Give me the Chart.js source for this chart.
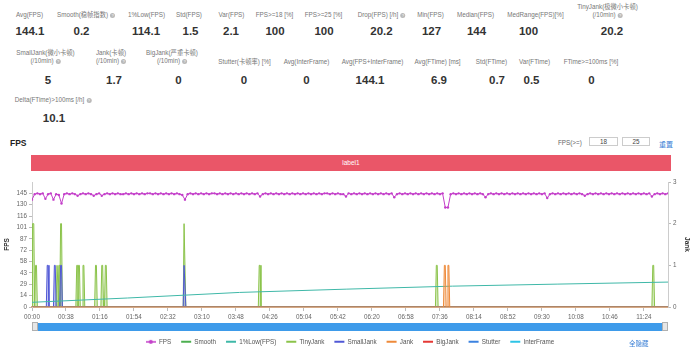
<!DOCTYPE html>
<html>
<head>
<meta charset="utf-8">
<script src="https://cdn.jsdelivr.net/npm/chart.js@4.4.0/dist/chart.umd.min.js"></script>
<style>
html, body { margin: 0; padding: 0; background: #fff; overflow: hidden; }
body { width: 700px; height: 347px; position: relative; font-family: "Liberation Sans", Arial, "Noto Sans CJK SC", sans-serif; }
.lb { position: absolute; transform: translateX(-50%); text-align: center; white-space: nowrap; font-size: 6.3px; line-height: 8px; color: #777; }
.val { position: absolute; transform: translateX(-50%); white-space: nowrap; font-size: 11.5px; line-height: 13px; font-weight: bold; color: #333; }
.q { display: inline-block; width: 5px; height: 5px; border-radius: 50%; background: #b8b8b8; color: #fff; font-size: 4px; line-height: 5px; text-align: center; vertical-align: middle; margin-left: 2px; }
#title { position: absolute; left: 10px; top: 138px; font-size: 8.5px; font-weight: bold; color: #222; }
#fpsGe { position: absolute; left: 558px; top: 139px; font-size: 6.3px; color: #666; }
.inp { position: absolute; top: 137px; height: 9px; border: 1px solid #ccc; box-sizing: border-box; font-size: 6.3px; line-height: 7px; text-align: center; color: #444; }
#reset { position: absolute; left: 659px; top: 138.5px; font-size: 7px; color: #3a7fd5; }
#labelBar { position: absolute; left: 31px; top: 155px; width: 640px; height: 16px; background: #ea5668; color: #fff; font-size: 6.5px; line-height: 16px; text-align: center; }
#wrap { position: absolute; left: 0; top: 172px; width: 700px; height: 183px; }
#slider { position: absolute; left: 34px; top: 323px; width: 632px; height: 8px; background: #3e9bea; border-radius: 1px; }
.handle { position: absolute; top: 322px; width: 6px; height: 9px; background: #e6e6e6; border: 1px solid #b0b0b0; box-sizing: border-box; }
#hideAll { position: absolute; left: 629px; top: 337.5px; font-size: 6.5px; color: #3a7fd5; }
</style>
</head>
<body>
<div id="stats"></div>
<div id="title">FPS</div>
<div id="fpsGe">FPS(&gt;=)</div>
<div class="inp" style="left:589px;width:29px;">18</div>
<div class="inp" style="left:622px;width:28px;">25</div>
<div id="reset">重置</div>
<div id="labelBar">label1</div>
<div id="wrap"><canvas id="fpsChart" width="700" height="183"></canvas></div>
<div id="slider"></div>
<div class="handle" style="left:32px;"></div>
<div class="handle" style="left:662px;"></div>
<div id="hideAll">全隐藏</div>
<script>
// summary numbers: label, value, label centre x, value centre x, row
const statRows = [
    ['Avg(FPS)', '144.1', 29.5, 30, 0],
    ['Smooth(稳帧指数)?', '0.2', 86, 81.5, 0],
    ['1%Low(FPS)', '114.1', 146.5, 146, 0],
    ['Std(FPS)', '1.5', 189, 190.5, 0],
    ['Var(FPS)', '2.1', 231.5, 231, 0],
    ['FPS>=18 [%]', '100', 274.5, 275, 0],
    ['FPS>=25 [%]', '100', 323.5, 324, 0],
    ['Drop(FPS) [/h]?', '20.2', 381.5, 381.5, 0],
    ['Min(FPS)', '127', 430.5, 431.5, 0],
    ['Median(FPS)', '144', 475.5, 476.5, 0],
    ['MedRange(FPS)[%]', '100', 535.5, 528.5, 0],
    ['TinyJank(极微小卡顿)|(/10min)?', '20.2', 607.5, 612, 0],
    ['SmallJank(微小卡顿)|(/10min)?', '5', 45.5, 48, 1],
    ['Jank(卡顿)|(/10min)?', '1.7', 111, 114, 1],
    ['BigJank(严重卡顿)|(/10min)?', '0', 172, 178.5, 1],
    ['Stutter(卡顿率) [%]', '0', 244.5, 244, 1],
    ['Avg(InterFrame)', '0', 306.5, 306.5, 1],
    ['Avg(FPS+InterFrame)', '144.1', 372.5, 370, 1],
    ['Avg(FTime) [ms]', '6.9', 437.5, 439, 1],
    ['Std(FTime)', '0.7', 491.5, 497, 1],
    ['Var(FTime)', '0.5', 534.5, 531.5, 1],
    ['FTime>=100ms [%]', '0', 591, 591.5, 1],
    ['Delta(FTime)>100ms [/h]?', '10.1', 53, 54, 2]
];

// chart data (time in seconds)
const timeMax = 711;
const xTickLabels = ['00:00', '00:38', '01:16', '01:54', '02:32', '03:10', '03:48', '04:26', '05:04', '05:42',
    '06:20', '06:58', '07:36', '08:14', '08:52', '09:30', '10:08', '10:46', '11:24'];
const fpsTickValues = [0, 14.5, 29, 43.5, 58, 72.5, 87, 101.5, 116, 130.5, 145];
const fpsTickLabels = ['0', '14', '29', '43', '58', '72', '87', '101', '116', '130', '145'];

const fpsStep = 3;
const fpsValues = [
    137,144,145,144,145,138,144,145,137,144,
    143,132,144,145,144,145,144,142,144,145,
    144,145,144,142,144,145,142,144,145,144,
    145,144,145,144,144,145,144,145,144,145,
    144,145,144,145,145,144,145,144,145,144,
    145,144,145,144,145,144,143,137,144,145,
    144,145,144,145,144,145,144,145,145,144,
    145,144,145,144,145,144,145,144,145,144,
    145,144,145,144,145,141,144,145,144,145,
    144,145,144,145,144,145,144,145,144,145,
    144,145,144,145,144,145,144,145,144,145,
    145,144,145,144,145,144,144,141,145,144,
    145,144,145,144,145,144,145,144,145,144,
    145,144,145,144,145,140,144,145,144,145,
    144,145,144,145,144,145,144,145,144,145,
    144,145,144,145,127,127,144,145,144,145,
    144,145,144,145,144,145,144,145,144,140,
    144,145,144,145,144,145,144,145,144,145,
    144,145,144,145,144,145,144,145,144,145,
    144,145,139,144,145,144,145,144,145,144,
    145,144,145,144,145,144,142,144,145,144,
    145,144,145,144,145,144,145,144,145,144,
    145,144,145,144,145,144,145,144,145,144,
    145,141,144,145,144,145,144,145
];

const lowTimes = [0, 107, 232, 352, 470, 587, 711];
const lowValues = [6, 11.5, 18.6, 22.8, 26.6, 29.2, 31.8];

const tinyJankTimes = [1, 4, 28, 30, 32, 50, 52, 57, 71, 78, 82, 170, 254, 452, 694];
const tinyJankValues = [2, 1, 1, 1, 2, 1, 1, 1, 1, 1, 1, 2, 1, 1, 1];
const smallJankTimes = [17, 25, 32, 170];
const smallJankValues = [1, 1, 1, 1];
const jankTimes = [461, 465];
const jankValues = [1, 1];
const bigJankTimes = [];
const bigJankValues = [];
const flatTimes = [0, 711];
const smoothValues = [0, 0];
const stutterValues = [0, 0];
const interFrameValues = [0, 0];

// --- summary block ---
const statsBox = document.getElementById('stats');
const labelTop = [11, 58, 96];
const valueTop = [25, 73.5, 111.5];
statRows.forEach(function(s) {
    const lines = s[0].split('|');
    const lb = document.createElement('div');
    lb.className = 'lb';
    lb.innerHTML = lines.map(l => l.replace('?', '<span class="q">?</span>')).join('<br>');
    lb.style.left = s[2] + 'px';
    lb.style.top = (labelTop[s[4]] - (lines.length - 1) * (s[4] === 1 ? 9 : 8.3)) + 'px';
    statsBox.appendChild(lb);
    const v = document.createElement('div');
    v.className = 'val';
    v.textContent = s[1];
    v.style.left = s[3] + 'px';
    v.style.top = valueTop[s[4]] + 'px';
    statsBox.appendChild(v);
});

// --- chart ---
function toSec(label) {
    const p = label.split(':');
    return Number(p[0]) * 60 + Number(p[1]);
}

// each jank event lasts one sample (1 s)
function spikes(times, values) {
    const pts = [{x: 0, y: 0}];
    times.forEach(function(t, i) {
        pts.push({x: t - 1, y: 0}, {x: t, y: values[i]}, {x: t + 1, y: values[i]}, {x: t + 2, y: 0});
    });
    pts.push({x: timeMax, y: 0});
    return pts;
}

function pairs(times, values) {
    return times.map((t, i) => ({x: t, y: values[i]}));
}

const colors = {
    fps: '#c33ec9', smooth: '#4caf50', low: '#3fb8a8', tiny: '#8bc34a', small: '#5058d6',
    jank: '#ee8a3a', big: '#e53935', stutter: '#3b82e0', inter: '#2ec4e6'
};

// legend icon for FPS: line with a dot
const fpsIcon = document.createElement('canvas');
fpsIcon.width = 10; fpsIcon.height = 6;
(function() {
    const c = fpsIcon.getContext('2d');
    c.strokeStyle = colors.fps; c.fillStyle = colors.fps; c.lineWidth = 1.5;
    c.beginPath(); c.moveTo(0, 3); c.lineTo(10, 3); c.stroke();
    c.beginPath(); c.arc(5, 3, 2, 0, Math.PI * 2); c.fill();
})();

Chart.defaults.font.family = '"Liberation Sans", Arial, "Noto Sans CJK SC", sans-serif';

function spikeSet(label, color, data, order) {
    return {
        label: label, data: data, yAxisID: 'y1', order: order,
        borderColor: color, backgroundColor: color + '55', borderWidth: 1,
        pointRadius: 0, fill: 'origin'
    };
}

function flatSet(label, color, data) {
    return { label: label, yAxisID: 'y1', order: 5, data: data, borderColor: color, backgroundColor: color, borderWidth: 1, pointRadius: 0 };
}

const ctx = document.getElementById('fpsChart').getContext('2d');
new Chart(ctx, {
    type: 'line',
    data: {
        datasets: [
            {
                label: 'FPS', yAxisID: 'y', order: 0,
                data: fpsValues.map((v, i) => ({x: i * fpsStep, y: v})),
                borderColor: colors.fps, backgroundColor: colors.fps, borderWidth: 1,
                pointRadius: 1.2, pointBorderWidth: 0, pointBackgroundColor: colors.fps
            },
            flatSet('Smooth', colors.smooth, pairs(flatTimes, smoothValues)),
            { label: '1%Low(FPS)', yAxisID: 'y', order: 2, data: pairs(lowTimes, lowValues), borderColor: colors.low, backgroundColor: colors.low, borderWidth: 1, pointRadius: 0 },
            spikeSet('TinyJank', colors.tiny, spikes(tinyJankTimes, tinyJankValues), 4),
            spikeSet('SmallJank', colors.small, spikes(smallJankTimes, smallJankValues), 3),
            spikeSet('Jank', colors.jank, spikes(jankTimes, jankValues), 1),
            spikeSet('BigJank', colors.big, spikes(bigJankTimes, bigJankValues), 5),
            flatSet('Stutter', colors.stutter, pairs(flatTimes, stutterValues)),
            flatSet('InterFrame', colors.inter, pairs(flatTimes, interFrameValues))
        ]
    },
    options: {
        responsive: false,
        animation: false,
        layout: { padding: { top: 10, left: 0, right: 0, bottom: 0 } },
        plugins: {
            tooltip: { enabled: false },
            legend: {
                position: 'bottom',
                labels: {
                    usePointStyle: true,
                    pointStyleWidth: 10,
                    boxHeight: 6,
                    padding: 10,
                    color: '#555',
                    font: { size: 6.3 },
                    generateLabels: function(chart) {
                        const items = Chart.defaults.plugins.legend.labels.generateLabels(chart);
                        items.sort((a, b) => a.datasetIndex - b.datasetIndex);
                        items.forEach(function(it) {
                            it.pointStyle = it.datasetIndex === 0 ? fpsIcon : 'line';
                            it.lineWidth = 2;
                        });
                        return items;
                    }
                }
            }
        },
        scales: {
            x: {
                type: 'linear', min: 0, max: timeMax,
                afterBuildTicks: function(scale) {
                    scale.ticks = xTickLabels.map(l => ({value: toSec(l)}));
                },
                afterFit: function(scale) { scale.height = 21.7; },
                ticks: {
                    autoSkip: false, maxRotation: 0, padding: 2, color: '#666', font: { size: 6.3 },
                    callback: (v, i) => xTickLabels[i]
                },
                grid: { drawOnChartArea: false, tickLength: 4, color: '#bbb' },
                border: { color: '#d6a985', width: 2 }
            },
            y: {
                position: 'left', min: 0, max: 159.5,
                afterBuildTicks: function(scale) {
                    scale.ticks = fpsTickValues.map(v => ({value: v}));
                },
                afterFit: function(scale) { scale.width = 32; },
                ticks: {
                    autoSkip: false, padding: 2, color: '#666', font: { size: 6.3 },
                    callback: (v, i) => fpsTickLabels[i]
                },
                grid: { drawOnChartArea: false, tickLength: 3, color: '#bbb' },
                border: { color: '#ccc' },
                title: { display: true, text: 'FPS', color: '#333', font: { size: 6.5, weight: 'bold' }, padding: { top: 3.4, bottom: 0 } }
            },
            y1: {
                position: 'right', min: 0, max: 3,
                afterFit: function(scale) { scale.width = 32; },
                ticks: { stepSize: 1, padding: 2, color: '#666', font: { size: 6.3 } },
                grid: { drawOnChartArea: false, tickLength: 3, color: '#bbb' },
                border: { color: '#ccc' },
                title: { display: true, text: 'Jank', color: '#333', font: { size: 6.5, weight: 'bold' }, padding: { top: 9, bottom: 0 } }
            }
        }
    }
});
</script>
</body>
</html>
